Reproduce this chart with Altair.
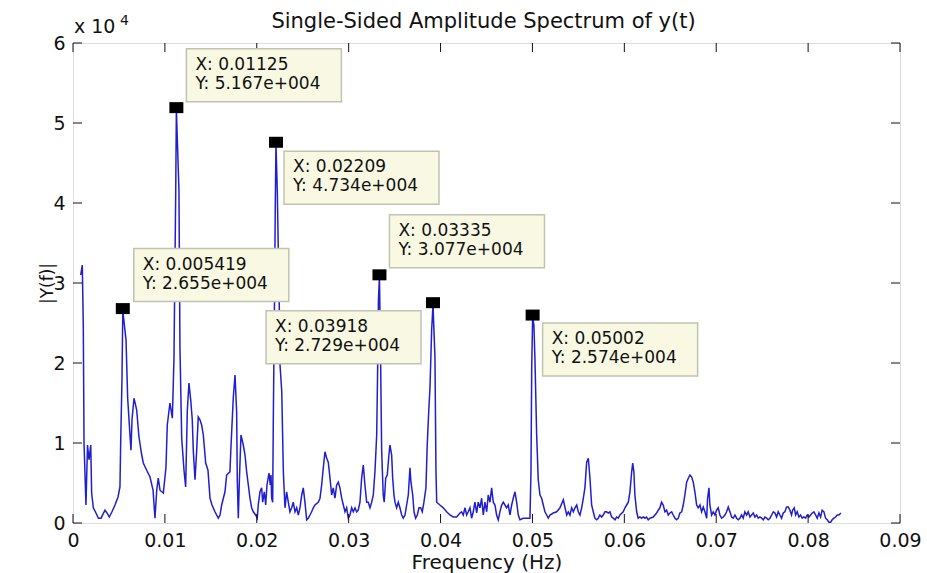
import altair as alt
import pandas as pd

# ---------------- data ----------------
freq = [
    0.00084, 0.00101, 0.00112, 0.00120, 0.00141, 0.00158, 0.00174, 0.00193, 0.00203, 0.00221,
    0.00250, 0.00277, 0.00305, 0.00348, 0.00370, 0.00395, 0.00424, 0.00457, 0.00490, 0.00511,
    0.00519, 0.00533, 0.005419, 0.00577, 0.00595, 0.00620, 0.00631, 0.00642, 0.00664, 0.00693,
    0.00718, 0.00748, 0.00765, 0.00802, 0.00838, 0.00871, 0.00892, 0.00911, 0.00928, 0.00947,
    0.00983, 0.01012, 0.01026, 0.01055, 0.01081, 0.01099, 0.01118, 0.01125, 0.01153, 0.01164,
    0.01183, 0.01208, 0.01226, 0.01244, 0.01262, 0.01281, 0.01298, 0.01309, 0.01328, 0.01346,
    0.01363, 0.01382, 0.01400, 0.01418, 0.01444, 0.01469, 0.01491, 0.01513, 0.01545, 0.01581,
    0.01600, 0.01618, 0.01654, 0.01672, 0.01708, 0.01719, 0.01744, 0.01763, 0.01781, 0.01788,
    0.01799, 0.01810, 0.01828, 0.01853, 0.01872, 0.01890, 0.01908, 0.01926, 0.01944, 0.01962,
    0.01988, 0.02005, 0.02016, 0.02035, 0.02053, 0.02064, 0.02082, 0.02097, 0.02111, 0.02133,
    0.02147, 0.02155, 0.02162, 0.02173, 0.02180, 0.02193, 0.02202, 0.02209, 0.02223, 0.02245,
    0.02253, 0.02272, 0.02289, 0.02307, 0.02325, 0.02343, 0.02361, 0.02380, 0.02397, 0.02416,
    0.02434, 0.02452, 0.02470, 0.02489, 0.02506, 0.02524, 0.02543, 0.02560, 0.02579, 0.02597,
    0.02615, 0.02633, 0.02669, 0.02688, 0.02706, 0.02724, 0.02742, 0.02761, 0.02778, 0.02797,
    0.02815, 0.02832, 0.02851, 0.02869, 0.02887, 0.02905, 0.02924, 0.02942, 0.02960, 0.02978,
    0.02996, 0.03014, 0.03033, 0.03050, 0.03069, 0.03087, 0.03104, 0.03123, 0.03141, 0.03159,
    0.03177, 0.03196, 0.03213, 0.03232, 0.03250, 0.03268, 0.03286, 0.03305, 0.03315, 0.03324,
    0.03335, 0.03348, 0.03359, 0.03376, 0.03387, 0.03403, 0.03420, 0.03438, 0.03449, 0.03468,
    0.03479, 0.03493, 0.03504, 0.03522, 0.03540, 0.03558, 0.03577, 0.03594, 0.03613, 0.03631,
    0.03649, 0.03667, 0.03678, 0.03697, 0.03711, 0.03729, 0.03747, 0.03765, 0.03784, 0.03801,
    0.03819, 0.03841, 0.03855, 0.03871, 0.03885, 0.03903, 0.03918, 0.03928, 0.03939, 0.03950,
    0.03958, 0.03993, 0.04030, 0.04066, 0.04102, 0.04138, 0.04175, 0.04211, 0.04229, 0.04247,
    0.04266, 0.04284, 0.04301, 0.04320, 0.04338, 0.04356, 0.04374, 0.04393, 0.04410, 0.04429,
    0.04447, 0.04465, 0.04483, 0.04502, 0.04519, 0.04538, 0.04556, 0.04574, 0.04592, 0.04610,
    0.04628, 0.04646, 0.04665, 0.04683, 0.04701, 0.04719, 0.04737, 0.04755, 0.04774, 0.04791,
    0.04810, 0.04828, 0.04846, 0.04864, 0.04900, 0.04937, 0.04973, 0.04984, 0.04992, 0.05002,
    0.05016, 0.05027, 0.05046, 0.05063, 0.05082, 0.05100, 0.05118, 0.05136, 0.05155, 0.05172,
    0.05191, 0.05227, 0.05264, 0.05300, 0.05336, 0.05355, 0.05373, 0.05390, 0.05408, 0.05427,
    0.05445, 0.05463, 0.05482, 0.05499, 0.05517, 0.05536, 0.05554, 0.05571, 0.05590, 0.05608,
    0.05626, 0.05644, 0.05662, 0.05680, 0.05698, 0.05716, 0.05734, 0.05753, 0.05771, 0.05789,
    0.05807, 0.05825, 0.05843, 0.05862, 0.05880, 0.05898, 0.05916, 0.05934, 0.05952, 0.05988,
    0.06007, 0.06025, 0.06043, 0.06061, 0.06080, 0.06091, 0.06104, 0.06115, 0.06134, 0.06151,
    0.06170, 0.06188, 0.06206, 0.06224, 0.06242, 0.06260, 0.06279, 0.06315, 0.06351, 0.06369,
    0.06387, 0.06405, 0.06423, 0.06442, 0.06460, 0.06478, 0.06496, 0.06515, 0.06532, 0.06551,
    0.06569, 0.06587, 0.06605, 0.06624, 0.06641, 0.06659, 0.06678, 0.06696, 0.06714, 0.06733,
    0.06750, 0.06768, 0.06787, 0.06804, 0.06823, 0.06841, 0.06859, 0.06877, 0.06896, 0.06906,
    0.06921, 0.06931, 0.06950, 0.06967, 0.06986, 0.07004, 0.07022, 0.07040, 0.07059, 0.07076,
    0.07095, 0.07113, 0.07131, 0.07149, 0.07168, 0.07185, 0.07204, 0.07222, 0.07240, 0.07258,
    0.07276, 0.07294, 0.07312, 0.07331, 0.07348, 0.07367, 0.07385, 0.07403, 0.07421, 0.07440,
    0.07457, 0.07476, 0.07494, 0.07512, 0.07530, 0.07549, 0.07566, 0.07584, 0.07603, 0.07621,
    0.07639, 0.07657, 0.07675, 0.07693, 0.07711, 0.07729, 0.07747, 0.07766, 0.07784, 0.07802,
    0.07820, 0.07831, 0.07849, 0.07864, 0.07881, 0.07900, 0.07918, 0.07936, 0.07954, 0.07973,
    0.07990, 0.08009, 0.08027, 0.08045, 0.08063, 0.08082, 0.08099, 0.08118, 0.08136, 0.08153,
    0.08172, 0.08190, 0.08208, 0.08226, 0.08245, 0.08262, 0.08281, 0.08299, 0.08317, 0.08335, 0.08357,
]
amp = [
    31000, 32250, 24750, 10000, 2250, 9750, 7900, 9750, 3750, 1900,
    1250, 600, 600, 1600, 1250, 750, 1400, 2250, 3250, 4500,
    10100, 17900, 26550, 22900, 15600, 11000, 9100, 12900, 15600, 14100,
    10750, 8500, 7500, 6600, 5750, 4100, 600, 4100, 5600, 4100,
    3750, 7000, 12250, 15000, 13100, 20600, 41600, 51670, 41600, 22000,
    10600, 6600, 4500, 14100, 17500, 15400, 12900, 9100, 5400, 9100,
    13250, 12900, 12250, 11000, 7500, 6600, 3100, 2250, 1400, 600,
    1000, 2250, 3900, 6000, 6400, 9500, 15600, 18500, 13900, 5200,
    600, 5100, 11000, 9750, 8500, 6400, 4750, 3100, 1900, 1400,
    1000, 600, 2250, 3900, 4400, 2600, 3900, 2250, 4750, 6250,
    4750, 6000, 3100, 2600, 13100, 27900, 40400, 47340, 41600, 27000,
    19750, 16400, 6400, 1900, 3900, 2600, 1400, 1900, 2600, 1400,
    1900, 1000, 1900, 3500, 4400, 2600, 400, 600, 1000, 1400,
    1900, 2250, 2600, 3100, 4750, 6900, 8900, 8100, 7600, 5600,
    3500, 4400, 3100, 4750, 5100, 4400, 3100, 2250, 1400, 1900,
    600, 1000, 1900, 1400, 1900, 1400, 1600, 2600, 5600, 7250,
    4750, 2600, 2600, 1900, 2600, 3500, 6400, 11000, 19100, 27900,
    30770, 20000, 9100, 3500, 2600, 5600, 6000, 8500, 9750, 8500,
    5600, 3500, 2600, 1900, 2600, 1900, 1000, 600, 1000, 2250,
    3500, 6900, 5100, 3500, 1400, 600, 1000, 1900, 1900, 1400,
    2600, 4400, 9750, 13900, 16900, 24100, 27290, 24100, 20800, 6600,
    2600, 2250, 1900, 1400, 1000, 750, 750, 1250, 1400, 1000,
    1900, 1000, 1400, 1900, 600, 1400, 2600, 1250, 2600, 1900,
    3100, 1000, 2600, 1400, 3500, 2600, 4400, 2600, 2250, 1000,
    400, 1400, 2250, 2600, 2250, 1900, 2250, 1000, 2250, 3100,
    3900, 2600, 1000, 400, 600, 600, 600, 6400, 19400, 25740,
    24750, 20600, 11000, 5400, 3500, 3100, 2250, 1400, 1000, 600,
    1000, 1250, 1400, 1900, 2900, 1900, 1000, 1400, 1000, 1900,
    1400, 1900, 2250, 1400, 1000, 1900, 3100, 4400, 7600, 8100,
    5600, 2250, 1400, 600, 400, 600, 1000, 750, 1000, 1400,
    1400, 1250, 1400, 750, 600, 400, 750, 600, 1000, 1400,
    1900, 2250, 2600, 3900, 6400, 7500, 6400, 3500, 1400, 600,
    750, 600, 750, 600, 750, 400, 600, 750, 1250, 1600,
    1900, 2600, 2250, 1400, 1600, 1000, 1250, 1400, 1000, 600,
    400, 600, 1250, 1400, 2250, 3500, 5100, 5600, 6000, 5750,
    5100, 3900, 2250, 1900, 2250, 1400, 2000, 1400, 600, 3100,
    4400, 2250, 1000, 1400, 1000, 1600, 1900, 1000, 600, 750,
    1000, 1400, 2000, 1400, 750, 600, 1000, 600, 400, 600,
    1000, 600, 1400, 1000, 1400, 750, 1000, 1250, 750, 1000,
    600, 750, 600, 400, 750, 600, 400, 600, 1000, 1400,
    1250, 750, 1400, 1000, 600, 1250, 1400, 2000, 2000, 1600,
    1000, 1600, 1900, 1000, 1400, 750, 1000, 600, 750, 600,
    1000, 750, 1000, 1250, 1400, 1000, 600, 1250, 750, 1600,
    1400, 600, 400, 100, 100, 400, 600, 750, 1000, 1000, 1250,
]

# data tips
tip_f = [0.01125, 0.02209, 0.005419, 0.03335, 0.03918, 0.05002]
tip_a = [51670, 47340, 26550, 30770, 27290, 25740]
tip_xtext = ["X: 0.01125", "X: 0.02209", "X: 0.005419", "X: 0.03335", "X: 0.03918", "X: 0.05002"]
tip_ytext = ["Y: 5.167e+004", "Y: 4.734e+004", "Y: 2.655e+004", "Y: 3.077e+004", "Y: 2.729e+004", "Y: 2.574e+004"]

# axis ticks
x_ticks = [0, 0.01, 0.02, 0.03, 0.04, 0.05, 0.06, 0.07, 0.08, 0.09]
y_ticks = [0, 10000, 20000, 30000, 40000, 50000, 60000]

TITLE = "Single-Sided Amplitude Spectrum of y(t)"

# ---------------- layout / style ----------------
W, H = 827, 480
FONT = "DejaVu Sans"
LINE_COLOR = "#1f1fd0"
# pixel placement of each data-tip box relative to its point
tip_dx = [10, 8, 11, 10, -167, 10]
tip_dy = [-61, 7, -62, -62, 6, 6]
BOX_W, BOX_H = 155, 53

xscale = alt.Scale(domain=[0, 0.09], nice=False, zero=False)
yscale = alt.Scale(domain=[0, 60000], nice=False, zero=False)

xaxis = alt.Axis(values=x_ticks, format=".2~f", ticks=False, tickSize=0, domain=False,
                 grid=False, labelFont=FONT, labelFontSize=19, labelColor="#111",
                 labelPadding=8, labelBaseline="top", labelFlush=False,
                 title="Frequency (Hz)", titleFont=FONT, titleFontSize=20,
                 titleFontWeight="normal", titleColor="#111", titleY=45,
                 titleBaseline="alphabetic")
yaxis = alt.Axis(values=y_ticks, labelExpr="datum.value / 10000", ticks=False, tickSize=0,
                 domain=False, grid=False, labelFont=FONT, labelFontSize=19,
                 labelColor="#111", labelPadding=8, labelFlush=False,
                 title="|Y(f)|", titleFont=FONT, titleFontSize=17,
                 titleFontWeight="normal", titleColor="#111", titleX=-21, titleY=240,
                 titleAngle=270, titleBaseline="alphabetic", titleAlign="center")

X = alt.X("f:Q", scale=xscale, axis=xaxis)
Y = alt.Y("a:Q", scale=yscale, axis=yaxis)

spec_df = pd.DataFrame({"f": freq, "a": amp})
line = alt.Chart(spec_df).mark_line(color=LINE_COLOR, strokeWidth=1.5, clip=True).encode(x=X, y=Y)

xt_df = pd.DataFrame({"f": x_ticks})
yt_df = pd.DataFrame({"a": y_ticks})
TICK = 9
tick_layers = [
    alt.Chart(xt_df).mark_rule(color="#111", strokeWidth=1).encode(x=X, y=alt.value(H), y2=alt.value(H - TICK)),
    alt.Chart(xt_df).mark_rule(color="#111", strokeWidth=1).encode(x=X, y=alt.value(0), y2=alt.value(TICK)),
    alt.Chart(yt_df).mark_rule(color="#111", strokeWidth=1).encode(y=Y, x=alt.value(0), x2=alt.value(TICK)),
    alt.Chart(yt_df).mark_rule(color="#111", strokeWidth=1).encode(y=Y, x=alt.value(W), x2=alt.value(W - TICK)),
]

tip_layers = []
for i in range(len(tip_f)):
    d = pd.DataFrame({"f": [tip_f[i]], "a": [tip_a[i]], "t1": [tip_xtext[i]], "t2": [tip_ytext[i]]})
    dx, dy = tip_dx[i], tip_dy[i]
    box = alt.Chart(d).mark_rect(fill="#f9f9e3", stroke="#c2c2b2", strokeWidth=1.5,
                                 xOffset=dx, x2Offset=dx + BOX_W,
                                 yOffset=dy, y2Offset=dy + BOX_H).encode(x=X, x2="f:Q", y=Y, y2="a:Q")
    t1 = alt.Chart(d).mark_text(font=FONT, fontSize=17, color="#111", align="left", baseline="middle",
                                xOffset=dx + 9, yOffset=dy + 16).encode(x=X, y=Y, text="t1:N")
    t2 = alt.Chart(d).mark_text(font=FONT, fontSize=17, color="#111", align="left", baseline="middle",
                                xOffset=dx + 9, yOffset=dy + 35).encode(x=X, y=Y, text="t2:N")
    tip_layers += [box, t1, t2]

mk_df = pd.DataFrame({"f": tip_f, "a": tip_a})
markers = alt.Chart(mk_df).mark_rect(color="#000", xOffset=-7, x2Offset=7, yOffset=-7.5, y2Offset=3.5).encode(
    x=X, x2="f:Q", y=Y, y2="a:Q")

txt_df = pd.DataFrame({"s": ["x 10"], "e": ["4"], "t": [TITLE]})
exp_base = alt.Chart(txt_df).mark_text(font=FONT, fontSize=19, color="#111", align="left",
                                       baseline="alphabetic").encode(x=alt.value(1), y=alt.value(-10), text="s:N")
exp_pow = alt.Chart(txt_df).mark_text(font=FONT, fontSize=14, color="#111", align="left",
                                      baseline="alphabetic").encode(x=alt.value(47), y=alt.value(-18), text="e:N")
title = alt.Chart(txt_df).mark_text(font=FONT, fontSize=21, color="#111", align="center",
                                    baseline="alphabetic").encode(x=alt.value(W / 2 - 3), y=alt.value(-15), text="t:N")

chart = alt.layer(line, *tick_layers, *tip_layers, markers, exp_base, exp_pow, title).properties(
    width=W, height=H,
    autosize=alt.AutoSizeParams(type="none"),
    padding={"left": 73, "top": 43, "right": 27, "bottom": 50},
).configure_view(stroke="#111", strokeWidth=1).configure(background="white")

chart.save("out.html", embed_options={"renderer": "svg", "actions": False})
